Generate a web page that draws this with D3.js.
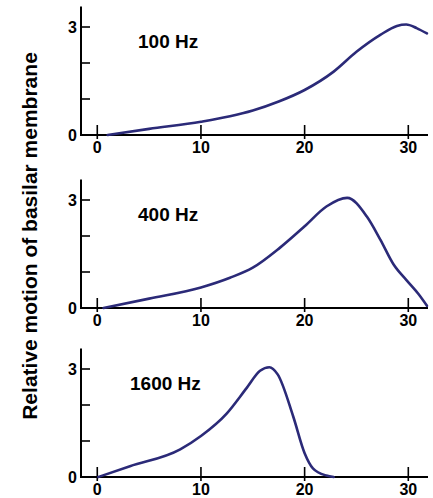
<!DOCTYPE html>
<html>
<head>
<meta charset="utf-8">
<script src="https://cdn.jsdelivr.net/npm/d3@7"></script>
<style>
  body { margin: 0; background: #fff; }
  text { font-family: "Liberation Sans", Arial, sans-serif; font-weight: bold; }
</style>
</head>
<body>
<div id="chart"></div>
<script>
// data: distance along membrane (x) vs relative motion (y)
var labels = ["100 Hz", "400 Hz", "1600 Hz"]

var x100 = [1, 5, 10, 12.8, 15, 17.5, 20, 22.8, 25, 27.3, 28.9, 29.8, 30.8, 31.8]
var y100 = [0, 0.17, 0.37, 0.52, 0.68, 0.93, 1.25, 1.76, 2.31, 2.78, 3.03, 3.07, 2.97, 2.82]

var x400 = [0.6, 5, 10, 12.8, 15, 17.6, 20, 22.1, 24.1, 26, 27.3, 28.6, 29.8, 31, 31.8]
var y400 = [0, 0.26, 0.57, 0.84, 1.12, 1.67, 2.27, 2.82, 3.06, 2.54, 1.9, 1.2, 0.78, 0.38, 0.06]

var x1600 = [0.1, 3.15, 8, 10, 12.5, 14.4, 15.7, 16.6, 17.4, 18.9, 20, 20.8, 22.1, 22.8]
var y1600 = [0, 0.3, 0.77, 1.14, 1.77, 2.47, 2.95, 3.05, 2.85, 1.68, 0.66, 0.24, 0.04, 0]

var xTicks = [0, 10, 20, 30]
var yTicks = [0, 1, 2, 3]
var yTickLabels = {0: "0", 3: "3"}

var series = [
  {label: labels[0], xs: x100, ys: y100},
  {label: labels[1], xs: x400, ys: y400},
  {label: labels[2], xs: x1600, ys: y1600}
]

var width = 433, height = 498
var panelTops = [27, 200, 369]   // pixel y of value 3 in each panel
var unit = 36                     // px per y unit
var lineColor = "#2b2a78"

var svg = d3.select("#chart")
  .append("svg")
    .attr("width", width)
    .attr("height", height)

var x = d3.scaleLinear().domain([-1.57, 31.9]).range([81, 428])

series.forEach(function (s, i) {
  var top3 = panelTops[i]
  var base = top3 + 3 * unit
  var y = d3.scaleLinear().domain([0, 3]).range([base, top3])
  var g = svg.append("g")

  // y axis line, runs a bit above 3
  g.append("line")
    .attr("x1", x.range()[0]).attr("x2", x.range()[0])
    .attr("y1", y(3.57)).attr("y2", base + 1)
    .attr("stroke", "#000").attr("stroke-width", 2)

  // y ticks pointing inward
  g.selectAll(".yt").data(yTicks.filter(d => d > 0)).enter()
    .append("line")
    .attr("x1", x.range()[0]).attr("x2", x.range()[0] + 9)
    .attr("y1", d => y(d)).attr("y2", d => y(d))
    .attr("stroke", "#000").attr("stroke-width", 1.6)

  g.selectAll(".yl").data(yTicks.filter(d => yTickLabels[d])).enter()
    .append("text")
    .attr("x", 77)
    .attr("y", d => y(d))
    .attr("dy", "0.35em")
    .attr("text-anchor", "end")
    .attr("font-size", 16)
    .text(d => yTickLabels[d])

  // x axis
  g.append("line")
    .attr("x1", x.range()[0]).attr("x2", x.range()[1])
    .attr("y1", base).attr("y2", base)
    .attr("stroke", "#000").attr("stroke-width", 2)

  g.selectAll(".xt").data(xTicks).enter()
    .append("line")
    .attr("x1", d => x(d)).attr("x2", d => x(d))
    .attr("y1", base - 10).attr("y2", base + 4)
    .attr("stroke", "#000").attr("stroke-width", 1.6)

  g.selectAll(".xl").data(xTicks).enter()
    .append("text")
    .attr("x", d => x(d))
    .attr("y", base + 18)
    .attr("text-anchor", "middle")
    .attr("font-size", 16)
    .text(d => d)

  // the curve
  var pts = s.xs.map((v, j) => [v, s.ys[j]])
  g.append("path")
    .datum(pts)
    .attr("fill", "none")
    .attr("stroke", lineColor)
    .attr("stroke-width", 2.6)
    .attr("stroke-linecap", "round")
    .attr("d", d3.line()
      .x(d => x(d[0]))
      .y(d => y(d[1]))
      .curve(d3.curveMonotoneX)
    )

  g.append("text")
    .attr("x", i == 2 ? 130 : 138)
    .attr("y", top3 + 21)
    .attr("font-size", 19)
    .text(s.label)
})

// shared y title
svg.append("text")
  .attr("transform", "translate(37,236) rotate(-90)")
  .attr("text-anchor", "middle")
  .attr("font-size", 21)
  .text("Relative motion of basilar membrane")
</script>
</body>
</html>
